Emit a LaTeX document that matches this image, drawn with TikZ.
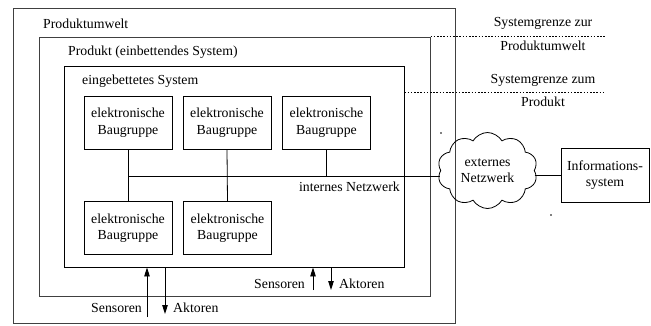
\documentclass[tikz,border=0pt]{standalone}
\usepackage{fontspec}
\setmainfont{Liberation Serif}
\usetikzlibrary{shapes.symbols,arrows.meta}
\begin{document}
\begin{tikzpicture}[x=1pt,y=-1pt,
  font=\fontsize{13.8}{16.5}\selectfont,
  frame/.style={draw=black!75,line width=1pt,rectangle,inner sep=0pt},
  innerframe/.style={draw=black,line width=0.9pt,rectangle,inner sep=0pt},
  baugruppe/.style={draw=black,line width=0.8pt,rectangle,align=center,
    minimum width=88pt,minimum height=53pt,inner sep=0pt},
  net/.style={line width=0.8pt},
  grenze/.style={line width=0.7pt,dash pattern=on 1.6pt off 1.6pt},
  sig/.style={line width=0.9pt,-{Triangle[length=9pt,width=5.5pt]}},
  lbl/.style={inner sep=0pt}]
\useasboundingbox (0,0) rectangle (651,325);

% nested system boundaries
\node[frame,minimum width=442pt,minimum height=315pt] (umwelt) at (234,165.5) {};
\node[frame,minimum width=391pt,minimum height=259pt] (produkt) at (234.5,166.5) {};
\node[innerframe,minimum width=340pt,minimum height=201pt] (eingebettet) at (234,166.5) {};

\node[lbl,anchor=west] (tUmwelt) at (43,24) {Produktumwelt};
\node[lbl,anchor=west] (tProdukt) at (68,52) {Produkt (einbettendes System)};
\node[lbl,anchor=west] (tEing) at (82,81) {eingebettetes System};

% electronic assemblies
\node[baugruppe] (b1) at (128,122.5) {elektronische\\Baugruppe};
\node[baugruppe] (b2) at (227,122.5) {elektronische\\Baugruppe};
\node[baugruppe] (b3) at (326.5,122.5) {elektronische\\Baugruppe};
\node[baugruppe] (b4) at (128,228) {elektronische\\Baugruppe};
\node[baugruppe] (b5) at (227.5,228) {elektronische\\Baugruppe};

% external network and information system
\node[cloud,draw,line width=0.8pt,cloud puffs=10,cloud puff arc=120,cloud ignores aspect,
  minimum width=100pt,minimum height=76pt,inner sep=0pt,align=center] (wolke) at (487.5,170.5)
  {externes\\Netzwerk};
\node[draw,line width=0.8pt,rectangle,align=center,minimum width=88pt,minimum height=54pt,
  inner sep=0pt] (info) at (605,175) {Informations-\\system};

% internal bus
\coordinate (n1) at (128,176);
\coordinate (n2) at (227,176);
\coordinate (n3) at (326.5,176);
\draw[net] (b1.south) -- (b4.north);
\draw[net] (b2.south) -- (b5.north);
\draw[net] (b3.south) -- (n3);
\draw[net] (n1) -- (n1 -| wolke.west);
\draw[net] (wolke.east |- info.west) -- (info.west);
\node[lbl,anchor=east] (tIntern) at (400,187) {internes Netzwerk};

% boundary markers
\coordinate (g1) at (605,36);
\coordinate (g2) at (605,92);
\draw[grenze] (produkt.east |- g1) -- (g1);
\draw[grenze] (eingebettet.east |- g2) -- (g2);
\node[lbl] (tG1a) at (543,23) {Systemgrenze zur};
\node[lbl] (tG1b) at (543,46) {Produktumwelt};
\node[lbl] (tG2a) at (543,80) {Systemgrenze zum};
\node[lbl] (tG2b) at (543,102) {Produkt};

% sensor and actuator signals
\coordinate (s1) at (147,317);
\coordinate (a1) at (165,314);
\draw[sig] (s1) -- (s1 |- eingebettet.south);
\draw[sig] (a1 |- eingebettet.south) -- (a1);
\node[lbl,anchor=east] (tS1) at (142,308) {Sensoren};
\node[lbl,anchor=west] (tA1) at (173,308) {Aktoren};

\coordinate (s2) at (313,290);
\coordinate (a2) at (331,290);
\draw[sig] (s2) -- (s2 |- eingebettet.south);
\draw[sig] (a2 |- eingebettet.south) -- (a2);
\node[lbl,anchor=east] (tS2) at (305,284) {Sensoren};
\node[lbl,anchor=west] (tA2) at (339,284) {Aktoren};

% small marks
\fill (441,133) circle (0.8pt);
\fill (551,215) circle (0.8pt);
\end{tikzpicture}
\end{document}
